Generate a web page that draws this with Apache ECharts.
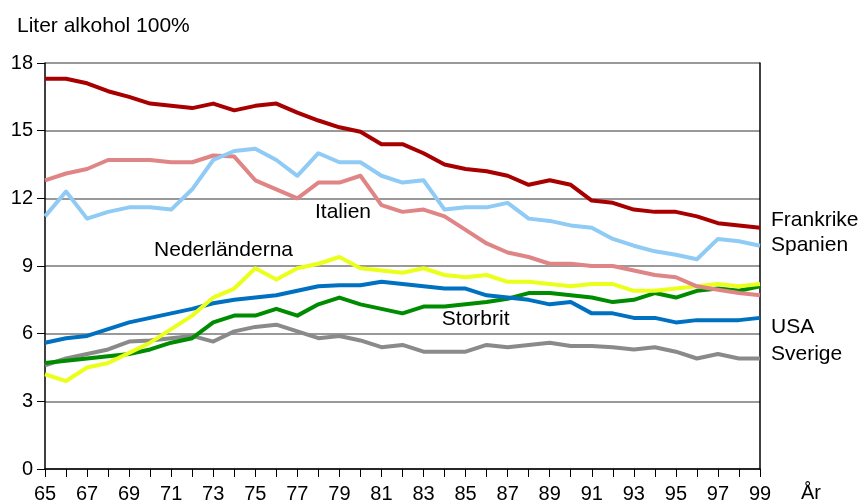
<!DOCTYPE html>
<html>
<head>
<meta charset="utf-8">
<script src="https://cdn.jsdelivr.net/npm/echarts@6/dist/echarts.min.js"></script>
<style>
  html, body { margin: 0; padding: 0; background: #fff; }
  #main { width: 863px; height: 504px; }
</style>
</head>
<body>
<div id="main"></div>
<script>
// år 1965-1999
var years = [];
for (var y = 65; y <= 99; y++) years.push(y);

var frankrike = [17.3, 17.3, 17.1, 16.75, 16.5, 16.2, 16.1, 16.0, 16.2, 15.9, 16.1, 16.2, 15.8, 15.45, 15.15, 14.95, 14.4, 14.4, 14.0, 13.5, 13.3, 13.2, 13.0, 12.6, 12.8, 12.6, 11.9, 11.8, 11.5, 11.4, 11.4, 11.2, 10.9, 10.8, 10.7];
var spanien = [11.2, 12.3, 11.1, 11.4, 11.6, 11.6, 11.5, 12.4, 13.7, 14.1, 14.2, 13.7, 13.0, 14.0, 13.6, 13.6, 13.0, 12.7, 12.8, 11.5, 11.6, 11.6, 11.8, 11.1, 11.0, 10.8, 10.7, 10.2, 9.9, 9.65, 9.5, 9.3, 10.2, 10.1, 9.9];
var italien = [12.8, 13.1, 13.3, 13.7, 13.7, 13.7, 13.6, 13.6, 13.9, 13.85, 12.8, 12.4, 12.0, 12.7, 12.7, 13.0, 11.7, 11.4, 11.5, 11.2, 10.6, 10.0, 9.6, 9.4, 9.1, 9.1, 9.0, 9.0, 8.8, 8.6, 8.5, 8.1, 7.95, 7.8, 7.7];
var nederlanderna = [4.2, 3.9, 4.5, 4.7, 5.15, 5.6, 6.2, 6.8, 7.6, 8.0, 8.9, 8.4, 8.9, 9.1, 9.4, 8.9, 8.8, 8.7, 8.9, 8.6, 8.5, 8.6, 8.3, 8.3, 8.2, 8.1, 8.2, 8.2, 7.9, 7.9, 8.0, 8.1, 8.2, 8.1, 8.2];
var usa = [5.6, 5.8, 5.9, 6.2, 6.5, 6.7, 6.9, 7.1, 7.35, 7.5, 7.6, 7.7, 7.9, 8.1, 8.15, 8.15, 8.3, 8.2, 8.1, 8.0, 8.0, 7.7, 7.6, 7.5, 7.3, 7.4, 6.9, 6.9, 6.7, 6.7, 6.5, 6.6, 6.6, 6.6, 6.7];
var storbrit = [4.7, 4.8, 4.9, 5.0, 5.1, 5.3, 5.6, 5.8, 6.5, 6.8, 6.8, 7.1, 6.8, 7.3, 7.6, 7.3, 7.1, 6.9, 7.2, 7.2, 7.3, 7.4, 7.55, 7.8, 7.8, 7.7, 7.6, 7.4, 7.5, 7.8, 7.6, 7.9, 8.0, 7.9, 8.1];
var sverige = [4.6, 4.9, 5.1, 5.3, 5.65, 5.7, 5.8, 5.9, 5.65, 6.1, 6.3, 6.4, 6.1, 5.8, 5.9, 5.7, 5.4, 5.5, 5.2, 5.2, 5.2, 5.5, 5.4, 5.5, 5.6, 5.45, 5.45, 5.4, 5.3, 5.4, 5.2, 4.9, 5.1, 4.9, 4.9];

var font = 'Liberation Sans, Arial, sans-serif';
var labelSize = 21;

function pairs(vals) {
    return years.map(function (yr, i) { return [yr, vals[i]]; });
}

// serie med namn vid slutet av linjen
function line(name, color, vals, endOffsetY, z) {
    var s = {
        name: name,
        type: 'line',
        data: pairs(vals),
        symbol: 'none',
        z: z,
        lineStyle: { color: color, width: 4, join: 'round' },
        animation: false
    };
    if (endOffsetY !== null) {
        s.endLabel = {
            show: true,
            formatter: name,
            color: '#000',
            fontFamily: font,
            fontSize: labelSize,
            distance: 11,
            offset: [0, endOffsetY]
        };
    }
    return s;
}

// namn inne i diagrammet
function inLabel(text, coord) {
    return {
        symbol: 'circle',
        symbolSize: 1,
        silent: true,
        itemStyle: { color: 'rgba(0,0,0,0)' },
        data: [{ coord: coord, value: text }],
        label: { show: true, formatter: text, position: 'inside', color: '#000', fontFamily: font, fontSize: labelSize }
    };
}

var series = [
    line('Sverige', '#8a8a8a', sverige, -4, 2),
    line('Storbrit', '#008c00', storbrit, null, 3),
    line('USA', '#0070c0', usa, 9, 4),
    line('Nederländerna', '#eaff1a', nederlanderna, null, 5),
    line('Italien', '#e08585', italien, null, 6),
    line('Spanien', '#8fcbf5', spanien, 0, 7),
    line('Frankrike', '#a80000', frankrike, -7, 8)
];
series[1].markPoint = inLabel('Storbrit', [85.48, 6.62]);
series[3].markPoint = inLabel('Nederländerna', [73.49, 9.69]);
series[4].markPoint = inLabel('Italien', [79.17, 11.39]);

var myChart = echarts.init(document.getElementById('main'));
myChart.setOption({
    animation: false,
    title: {
        text: 'Liter alkohol 100%',
        left: 12,
        top: 11,
        textStyle: { fontFamily: font, fontSize: labelSize, fontWeight: 'normal', color: '#000' }
    },
    grid: { left: 45, right: 103, top: 63, bottom: 34 },
    xAxis: {
        type: 'value',
        min: 65,
        max: 99,
        interval: 1,
        axisLine: { show: true, lineStyle: { color: '#000', width: 1.5 } },
        axisTick: { show: true, length: 8, lineStyle: { color: '#000' } },
        splitLine: { show: false },
        axisLabel: {
            margin: 15,
            color: '#000',
            fontFamily: font,
            fontSize: 20,
            formatter: function (v) { return (v % 2 === 1) ? String(v) : ''; }
        }
    },
    yAxis: [{
        type: 'value',
        min: 0,
        max: 18,
        interval: 3,
        axisLine: { show: true, lineStyle: { color: '#000', width: 1.5 } },
        axisTick: { show: true, length: 8, lineStyle: { color: '#000' } },
        splitLine: { show: true, lineStyle: { color: '#777', width: 1.5 } },
        axisLabel: { color: '#000', fontFamily: font, fontSize: 20, margin: 12 }
    }, {
        type: 'value',
        min: 0,
        max: 18,
        interval: 3,
        position: 'right',
        axisLine: { show: true, lineStyle: { color: '#000', width: 1.5 } },
        axisTick: { show: false },
        axisLabel: { show: false },
        splitLine: { show: false }
    }],
    graphic: [{
        type: 'text',
        left: 801,
        top: 483,
        style: { text: 'År', fontFamily: font, fontSize: 20, fill: '#000' }
    }],
    series: series
});
</script>
</body>
</html>
